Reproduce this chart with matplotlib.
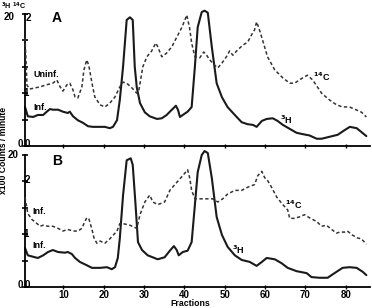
import matplotlib
matplotlib.use("Agg")
import matplotlib.pyplot as plt

plt.rcParams['font.family'] = ['Liberation Sans', 'DejaVu Sans']
plt.rcParams['font.weight'] = 'bold'

# ---------------- data (fraction, value) ----------------
# Panel A, 3H (x100 counts/min), Inf.
a_h_frac = [0.5, 1.2, 2.5, 3.7, 5, 5.9, 6.7, 7.4, 8.7, 9.9, 11.1, 11.6, 12.4, 13.6, 14.9,
            16.1, 17.3, 19.1, 20.3, 21.5, 22.3, 23.3, 24, 24.8, 25.7, 26.5, 27.2, 27.7,
            28.2, 29, 30.2, 31.4, 33.2, 34.4, 35.6, 36.9, 37.9, 38.4, 38.9, 39.6, 40.8,
            41.8, 42.6, 43.3, 44.3, 45, 45.8, 46.8, 48, 49.3, 50.7, 52.5, 54.2, 55.7,
            57.0, 57.9, 59.2, 60.4, 61.9, 63.1, 64.4, 66.1, 67.8, 69.3, 71, 72.8, 74,
            76, 78, 79.7, 81, 82.7, 83.9, 85.1]
a_h_val = [5.9, 4.5, 4.4, 4.7, 4.7, 5.2, 5.6, 5.5, 5.5, 5.2, 5.0, 5.2, 4.5, 3.9, 3.5,
           3.0, 2.9, 2.9, 2.9, 2.7, 2.9, 3.9, 7.0, 12.0, 19.1, 19.5, 19.1, 12.0,
           8.9, 6.5, 5.1, 4.5, 4.1, 4.2, 4.7, 5.5, 6.1, 5.5, 4.4, 4.7, 5.2,
           5.9, 12.0, 18.0, 20.3, 20.5, 20.2, 15.0, 9.5, 7.4, 5.9, 4.7, 3.6, 3.3,
           3.2, 2.9, 3.8, 4.1, 4.2, 3.8, 3.2, 2.6, 2.0, 1.8, 1.6, 1.1, 1.1,
           1.4, 1.7, 2.4, 2.9, 2.7, 2.1, 1.5]

# Panel A, 14C, Uninf.
a_c_frac = [0.5, 0.75, 1, 1.7, 3, 4.2, 5.9, 7.4, 8.4, 9.2, 9.9, 10.9, 11.6, 12.4, 12.9,
            13.6, 14.6, 15.1, 15.8, 16.3, 17.1, 17.8, 19.1, 20.3, 21.5, 22.8, 24, 24.8,
            25.7, 27, 28.2, 28.7, 29.7, 30.7, 31.9, 32.9, 33.4, 34.4, 35.6, 36.9, 38.1,
            39.4, 40.6, 41.3, 41.8, 42.6, 43.8, 44.8, 45.5, 46.3, 47.5, 48.3, 49.3, 50.5,
            51.2, 52, 53.2, 54.5, 55.7, 56.9, 57.4, 57.9, 58.4, 59.4, 60.6, 62.4, 64.4,
            66.1, 67.3, 69.3, 70.5, 71.8, 74, 76, 77.7, 79.2, 80.9, 82.7, 83.9, 85.1]
a_c_val = [2.05, 1.63, 1.15, 1.08, 1.10, 1.12, 1.16, 1.19, 1.25, 1.12, 1.04, 1.16, 1.19, 1.06, 0.93,
           0.91, 1.12, 1.44, 1.63, 1.53, 1.19, 0.93, 0.78, 0.74, 0.81, 0.93, 1.12, 1.21,
           1.19, 1.10, 1.0, 1.05, 1.50, 1.69, 1.80, 1.95, 1.88, 1.69, 1.76, 1.88, 2.06,
           2.25, 2.48, 2.23, 1.95, 1.69, 1.67, 1.78, 1.72, 1.63, 1.53, 1.48, 1.57, 1.70,
           1.80, 1.72, 1.82, 1.91, 1.97, 2.14, 2.20, 2.35, 2.25, 2.0, 1.69, 1.44, 1.29,
           1.19, 1.19, 1.29, 1.34, 1.25, 1.0, 0.87, 0.78, 0.74, 0.74, 0.68, 0.64, 0.55]

# Panel B, 3H, Inf.
b_h_frac = [0.5, 1.2, 3, 3.7, 5, 6.2, 7.4, 8.7, 10.4, 11.1, 12.1, 12.9, 14.1, 15.8, 17.1,
            19.1, 20.8, 22, 22.8, 23.5, 24, 24.8, 25.7, 26.7, 27.2, 27.9, 28.5, 29.5,
            30.9, 33.4, 35.1, 36.4, 37.4, 38.1, 38.6, 39.6, 40.8, 41.8, 42.6, 43.3,
            44.3, 45, 45.8, 46.8, 48, 49.3, 50.7, 52.5, 54.2, 56.2, 57.9, 59.2, 60.4,
            62.4, 64.1, 65.6, 67.8, 70.3, 71.5, 73.5, 75.5, 77.2, 79.2, 80.9, 82.7,
            84.2, 85.1]
b_h_val = [5.9, 4.8, 4.5, 4.4, 4.8, 5.3, 5.6, 5.3, 5.2, 5.3, 5.0, 4.4, 3.8, 3.3, 2.9,
           2.9, 3.0, 2.7, 3.0, 4.4, 7.4, 13.9, 19.2, 19.5, 18.5, 12.4, 6.8, 5.6,
           4.8, 4.2, 4.5, 5.5, 6.2, 5.6, 4.8, 5.3, 5.5, 6.8, 12.4, 17.4,
           20.0, 20.6, 20.3, 16.5, 10.6, 7.9, 6.1, 4.8, 4.1, 3.8, 3.2, 3.8, 4.4,
           4.2, 3.6, 2.9, 2.4, 2.1, 1.5, 1.4, 1.4, 2.1, 2.9, 3.0, 2.9,
           2.3, 1.8]

# Panel B, 14C, Inf.
b_c_frac = [0.5, 1.2, 2.2, 3.5, 4.2, 5, 6.2, 7.4, 8.7, 9.9, 11.1, 12.4, 13.6, 14.6, 15.1,
            15.8, 16.3, 17.1, 17.6, 18.3, 19.1, 20.3, 21.5, 23.3, 24, 24.8, 26.5, 28.2,
            29, 30.2, 31.4, 32.2, 33.4, 35.1, 36.4, 38.1, 39.6, 40.8, 41.3, 41.8, 42.6,
            43.8, 45.5, 47, 48.3, 49.5, 50.7, 52.5, 54.2, 55.7, 57.4, 58.2, 59.2, 59.9,
            60.6, 61.6, 62.9, 64.4, 65.6, 66.1, 67.3, 68.6, 69.8, 71, 72.8, 74, 75.2,
            76.5, 77.7, 78.5, 79.7, 80.4, 81.7, 82.9, 83.9, 85.1]
b_c_val = [1.70, 1.39, 1.28, 1.20, 1.15, 1.17, 1.15, 1.15, 1.11, 1.06, 1.09, 1.06, 1.06, 1.11, 1.20,
           1.31, 1.30, 1.09, 0.93, 0.83, 0.87, 0.83, 0.91, 1.06, 1.20, 1.20, 1.17, 1.11,
           1.37, 1.61, 1.74, 1.61, 1.56, 1.61, 1.83, 1.98, 2.11, 2.22, 2.07, 1.83, 1.67,
           1.67, 1.67, 1.67, 1.61, 1.67, 1.76, 1.83, 1.83, 1.89, 1.94, 2.11, 2.19, 2.07,
           2.02, 1.89, 1.70, 1.56, 1.46, 1.30, 1.30, 1.33, 1.37, 1.31, 1.24, 1.15, 1.17,
           1.09, 1.02, 1.04, 1.04, 1.06, 0.98, 0.93, 0.91, 0.81]

x_ticks = [10, 20, 30, 40, 50, 60, 70, 80]
h_ticks = [0, 4, 8, 12, 16, 20]

# ---------------- figure ----------------
W, H = 372, 308
fig = plt.figure(figsize=(W / 100, H / 100), dpi=100)
fig.patch.set_facecolor('white')

L = 25 / W
AW = 345 / W
AH = 132 / H
panels = [
    dict(bottom=(H - 146) / H, hf=a_h_frac, hv=a_h_val, cf=a_c_frac, cv=a_c_val,
         letter='A', dash_lab='Uninf.', dash_xy=(33, 75), sol_xy=(33, 107),
         c_xy=(313, 77), h_xy=(280, 120)),
    dict(bottom=(H - 287) / H, hf=b_h_frac, hv=b_h_val, cf=b_c_frac, cv=b_c_val,
         letter='B', dash_lab='Inf.', dash_xy=(32, 212), sol_xy=(32, 245),
         c_xy=(285, 205), h_xy=(232, 250)),
]


def ftext(px, py, s, size=6.5, ha='left', **kw):
    fig.text(px / W, 1 - py / H, s, fontsize=size, fontweight='bold',
             ha=ha, va='center', **kw)


for i, p in enumerate(panels):
    ax = fig.add_axes([L, p['bottom'], AW, AH])
    ax2 = ax.twinx()
    ax.set_xlim(0.5, 86)
    ax.set_ylim(0, 20)
    ax2.set_ylim(0, 2.5)
    ax.plot(p['hf'], p['hv'], color='#1a1a1a', lw=1.5, clip_on=False,
            solid_joinstyle='round', solid_capstyle='round')
    ax2.plot(p['cf'], p['cv'], color='#333333', lw=1.1, ls=(0, (2.2, 1.6)),
             clip_on=False)
    for a in (ax, ax2):
        a.set_facecolor('none')
        for s in ('top', 'right'):
            a.spines[s].set_visible(False)
    for s in ('left', 'bottom'):
        ax2.spines[s].set_visible(False)
    ax2.set_yticks([])
    ax.spines['left'].set_linewidth(1.3)
    ax.spines['bottom'].set_linewidth(1.3)
    ax.set_yticks(h_ticks)
    ax.set_yticklabels([])
    ax.tick_params(axis='y', direction='inout', length=5, width=1.2)
    ax.set_xticks(x_ticks)
    ax.tick_params(axis='x', direction='inout', length=3, width=1.0, pad=0.5,
                   labelsize=7)
    if i == 0:
        ax.set_xticklabels([])
    else:
        ax.set_xticklabels([str(t) for t in x_ticks], fontweight='bold')

    ytr = ax.get_yaxis_transform()
    fx = lambda px: (px - 25) / 345
    fs = 7
    ax.text(fx(9 if i == 0 else 13), 19.6 if i == 0 else 20, '20', transform=ytr,
            ha='center', va='center', fontsize=fs, fontweight='bold')
    if i == 0:
        ax.text(fx(28), 19.4, '2', transform=ytr, ha='center', va='center',
                fontsize=fs, fontweight='bold')
    else:
        ax.text(fx(27.5), 16.2, '2', transform=ytr, ha='center', va='center',
                fontsize=fs, fontweight='bold')
    ax.text(fx(26.5), 8, '1', transform=ytr, ha='center', va='center',
            fontsize=fs, fontweight='bold')
    ax.text(fx(20.5), 0.3, '0', transform=ytr, ha='center', va='center',
            fontsize=fs, fontweight='bold')
    ax.text(fx(27.5), 0.3, '0', transform=ytr, ha='center', va='center',
            fontsize=fs, fontweight='bold')

    ftext(52, 18 if i == 0 else 161, p['letter'], size=10)
    ftext(*p['dash_xy'], p['dash_lab'])
    ftext(*p['sol_xy'], 'Inf.')
    ftext(*p['c_xy'], r'$^{\mathbf{14}}$C')
    ftext(*p['h_xy'], r'$^{\mathbf{3}}$H')

ftext(190, 303.5, 'Fractions', size=6.3, ha='center')
fig.text(4 / W, 1 - 150 / H, 'x100 Counts / minute', rotation=90, ha='center',
         va='center', fontsize=6.2, fontweight='bold')
fig.text(1 / W, 1 - 0.5 / H, r'$^{\mathbf{3}}$H $^{\mathbf{14}}$C', ha='left',
         va='top', fontsize=5.2, fontweight='bold')

fig.savefig('out.png', dpi=100, facecolor='white')
